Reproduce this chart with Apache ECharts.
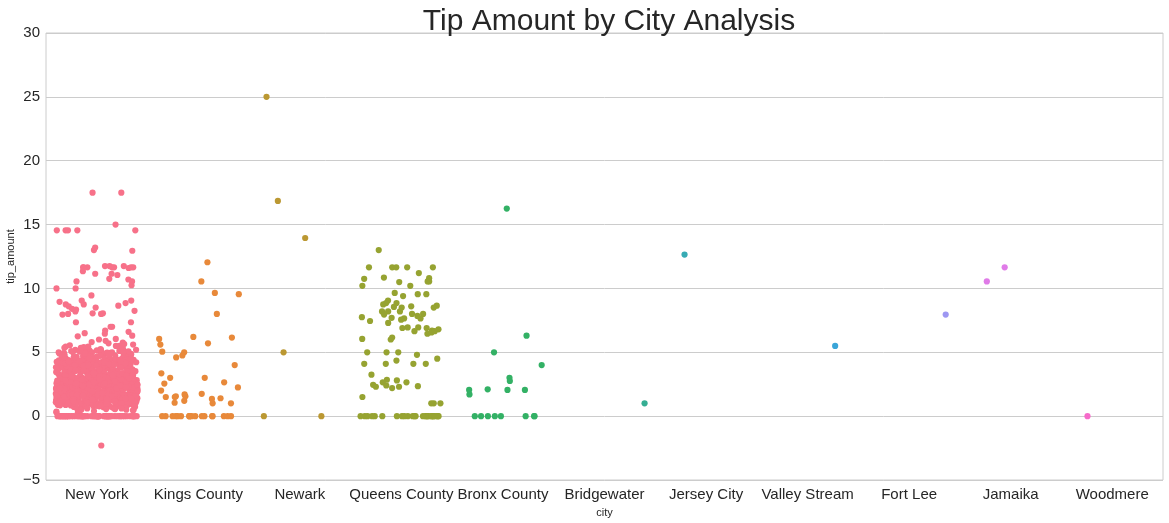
<!DOCTYPE html>
<html>
<head>
<meta charset="utf-8">
<script src="https://cdn.jsdelivr.net/npm/echarts@6/dist/echarts.min.js"></script>
<style>html,body{margin:0;padding:0;background:#fff}#c{width:1169px;height:523px}</style>
</head>
<body>
<div id="c"></div>
<script>
const cities = ['New York','Kings County','Newark','Queens County','Bronx County','Bridgewater','Jersey City','Valley Stream','Fort Lee','Jamaika','Woodmere'];
const yTicks = [-5, 0, 5, 10, 15, 20, 25, 30];
const colors = ['#f77189','#e8893a','#bb9832','#96a331','#33b165','#35ae93','#37abb4','#3aa5d8','#9d97f2','#e07be8','#f66bca'];

const tipsNewYork = [
  17.5, 17.5, 15.0, 14.55, 14.55, 14.55, 14.55, 14.55, 13.0, 13.2, 12.95,
  11.6, 11.75, 11.65, 11.65, 11.65, 11.75, 11.75, 11.65, 11.35, 11.65, 11.65, 11.65,
  11.15, 11.15, 11.05, 10.7, 10.55, 10.75, 10.55, 10.25, 10.0, 10.0, 9.45, 8.95,
  8.75, 8.85, 8.5, 9.05, 8.2, 9.05, 8.75, 8.6, 8.65, 8.4, 8.25, 8.35, 8.0, 8.05,
  7.95, 8.05, 8.0, 7.35, 7.35, 7.0, 7.0, 6.7, 6.5, 6.25, 6.05, 6.45, 6.0, 6.6, 6.3,
  5.8, 5.75, 5.6, 5.55, 5.5, 5.45, 5.4, 5.35, 5.3, 5.25, 5.2, 5.2, 5.15, 5.1, 5.05,
  5.0, 5.0, 5.0, 5.0, 5.0, 4.95, 4.9, 4.85, 4.8, 4.8, 4.75, 4.7, 4.7, 4.65, 4.6,
  4.6, 4.55, 4.55, 4.5, 4.5, 4.5, 4.45, 4.4, 4.4, 4.35, 5.65, 5.9, 5.3, 4.9, 4.65,
  4.75, 5.1, 4.95,
  4.55, 4.6, 4.7, 4.8, 4.9, 5.0, 5.1, 5.2, 4.65, 4.75, 4.85, 4.95, 5.05, 5.15, 5.25,
  5.35, 4.5, 4.58, 4.68, 4.78, 4.88, 4.98, 5.08, 5.5, 5.7, 4.62, 4.72, 4.82, 5.45, 5.0,
  1.95, 2.36, 1.16, 3.45, 2.7, 1.66, 0.96, 2.08, 1.5, 3.06, 2.55, 1.82, 4.12, 1.35, 2.96, 1.08, 2.26, 3.76, 1.56, 2.86,
  1.25, 3.2, 2.15, 0.78, 1.76, 2.45, 3.58, 1.46, 2.66, 1.06, 4.36, 2.0, 1.86, 3.16, 2.76, 1.36, 0.88, 2.46, 3.86, 1.7,
  2.25, 1.15, 3.36, 2.56, 1.96, 0.68, 2.85, 1.45, 3.95, 2.06, 1.26, 3.55, 2.35, 1.65, 4.05, 2.95, 1.05, 2.5, 3.26, 1.85,
  1.0, 2.16, 3.66, 1.55, 2.65, 0.92, 1.75, 3.05, 2.4, 1.12, 4.25, 1.94, 2.82, 1.32, 3.42, 2.18, 0.84, 1.62, 2.58, 3.7,
  1.42, 2.92, 1.88, 3.32, 2.28, 1.02, 4.18, 1.72, 2.62, 1.22, 3.12, 2.02, 0.74, 1.52, 3.82, 2.48, 1.18, 2.72, 3.48, 1.92,
  2.12, 1.38, 3.62, 0.98, 2.52, 1.78, 2.98, 1.28, 4.02, 2.32, 1.58, 3.22, 2.78, 1.1, 3.92, 2.22, 1.48, 2.68, 0.82, 1.98,
  3.0, 1.3, 2.42, 1.68, 3.52, 2.88, 1.14, 4.3, 2.1, 1.6, 3.38, 2.6, 0.94, 1.84, 2.3, 3.72, 1.4, 2.8, 1.2, 3.1,
  1.8, 2.2, 0.7, 3.3, 1.9, 2.9, 1.44, 4.08, 2.64, 1.04, 3.64, 2.04, 1.74, 2.84, 1.24, 3.44, 2.44, 0.86, 1.64, 3.9,
  2.34, 1.54, 3.14, 1.94, 2.74, 1.14, 4.22, 2.14, 1.34, 3.54, 2.54, 0.76, 1.84, 2.94, 1.64, 3.84, 2.24, 1.04, 3.24, 2.04,
  1.5, 2.0, 1.0, 2.5, 1.5, 3.0, 2.0, 1.0, 1.5, 2.0, 2.5, 3.5, 1.0, 2.0, 1.5, 4.0, 1.0, 3.0, 2.0, 1.5,
  1.31, 2.61, 1.91, 3.41, 2.11, 0.91, 1.61, 2.81, 3.81, 1.21, 2.41, 4.41, 1.71, 3.01, 2.21, 1.11, 2.71, 3.61, 1.81, 2.31,
  0.81, 1.41, 3.21, 2.51, 1.01, 3.91, 2.01, 1.51, 2.91, 3.31, 1.77, 2.27, 1.17, 3.67, 2.87, 1.47, 4.17, 2.37, 0.97, 1.97,
  2.67, 1.27, 3.17, 2.07, 1.57, 3.77, 2.47, 0.87, 1.87, 2.97, 1.37, 3.47, 2.17, 1.07, 4.27, 2.77, 1.67, 3.07, 2.57, 1.23,
  1.73, 2.43, 3.33, 1.13, 2.83, 1.93, 3.93, 2.13, 0.73, 1.53, 2.63, 3.53, 1.33, 2.23, 4.13, 1.83, 2.93, 1.03, 3.73, 2.33,
  1.63, 2.53, 1.43, 3.23, 2.03, 0.93, 1.73, 3.63, 2.73, 1.19, 4.33, 2.19, 1.69, 3.09, 2.39, 1.29, 2.89, 3.39, 1.89, 2.59,
  0.79, 1.49, 2.69, 3.19, 1.99, 1.09, 3.99, 2.29, 1.59, 2.79, 3.49, 1.39, 2.49, 0.99, 4.09, 1.79, 3.29, 2.09, 1.19, 2.99,
  2.38, 1.28, 3.58, 1.78, 2.68, 0.89, 1.98, 3.18, 2.18, 1.48, 4.38, 2.58, 1.08, 3.78, 2.88, 1.68, 3.28, 2.28, 0.69, 1.88,
  3.11, 1.61, 2.44, 1.11, 3.71, 2.14, 1.44, 2.84, 0.77, 1.94, 3.44, 2.54, 1.24, 4.04, 2.24, 1.74, 3.34, 2.64, 1.14, 3.96,
  1.55, 2.75, 1.05, 3.35, 2.25, 1.85, 3.85, 2.05, 0.85, 1.65, 2.95, 3.65, 1.35, 2.45, 4.15, 1.95, 3.15, 2.65, 1.15, 2.15,
  2.86, 1.46, 3.26, 1.96, 0.95, 2.56, 1.76, 3.56, 2.36, 1.26, 4.26, 2.16, 1.56, 3.46, 2.76, 1.06, 3.86, 2.06, 1.86, 3.36,
  2.02, 1.32, 3.52, 2.72, 1.12, 4.22, 1.82, 2.52, 0.72, 3.02, 2.32, 1.62, 3.82, 2.92, 1.42, 4.42, 2.12, 1.02, 3.32, 2.62,
  1.37, 2.27, 3.97, 1.57, 2.87, 0.83, 3.47, 2.07, 1.77, 4.07, 2.57, 1.17, 3.17, 2.37, 1.87, 3.67, 0.97, 2.77, 1.47, 4.27,
  3.05, 1.85, 2.45, 4.35, 1.25, 2.95, 3.75, 1.65, 0.75, 2.25, 3.55, 1.45, 2.65, 4.15, 1.05, 3.25, 2.05, 1.95, 3.85, 2.55,
  4.45, 3.63, 2.83, 1.23, 3.93, 2.43, 1.63, 4.23, 2.93, 0.88, 3.33, 1.93, 2.63, 4.03, 1.43, 3.13, 2.23, 1.73, 3.73, 1.13,
  2.19, 3.39, 1.29, 4.19, 2.59, 0.99, 3.59, 1.89, 2.79, 4.39, 1.49, 3.09, 2.39, 1.09, 3.89, 2.99, 1.69, 4.09, 2.29, 1.59,
  3.16, 1.96, 4.36, 2.56, 1.36, 3.76, 2.16, 0.86, 3.46, 1.76, 2.96, 4.16, 1.16, 2.36, 3.56, 1.56, 2.76, 3.96, 1.06, 2.46,
  1.5, 2.0, 3.0, 2.5, 1.0, 3.5, 4.0, 2.0, 1.5, 2.5, 3.0, 1.0, 2.0, 4.5, 1.5, 3.5, 2.5, 1.0, 3.0, 2.0,
  4.28, 3.48, 2.68, 1.88, 4.48, 3.68, 2.88, 1.08, 3.88, 2.08, 1.28, 4.08, 3.28, 2.48, 0.68, 3.08, 1.68, 2.28, 4.18, 1.48,
  3.44, 1.84, 4.24, 2.64, 1.24, 3.84, 2.84, 0.94, 4.44, 2.24, 1.64, 3.24, 2.04, 1.44, 4.04, 3.64, 1.04, 2.44, 3.04, 1.94,
  2.71, 3.91, 1.51, 4.31, 2.91, 0.81, 3.51, 1.71, 2.31, 4.11, 1.91, 3.31, 2.51, 1.31, 3.71, 2.11, 4.21, 1.21, 3.11, 2.81,
  3.87, 2.47, 1.27, 4.47, 3.27, 2.17, 0.77, 3.67, 1.97, 2.67, 4.37, 1.57, 3.07, 2.27, 1.07, 4.17, 2.87, 1.67, 3.57, 2.37,
  4.33, 3.13, 1.83, 2.53, 4.13, 0.93, 3.83, 2.33, 1.53, 3.43, 2.73, 4.43, 1.33, 3.23, 2.13, 1.73, 3.93, 2.93, 1.13, 4.03,
  1.99, 3.29, 4.29, 2.49, 1.19, 3.79, 2.89, 0.79, 4.49, 3.49, 1.79, 2.69, 4.09, 1.39, 3.19, 2.09, 3.99, 1.59, 2.59, 4.19,
  2.85, 4.05, 1.75, 3.45, 2.35, 1.15, 4.25, 3.15, 0.85, 3.95, 2.15, 1.55, 4.35, 2.75, 1.35, 3.65, 2.55, 4.15, 1.95, 3.35,
  3.78, 2.58, 4.38, 1.38, 3.18, 2.18, 0.98, 4.28, 2.98, 1.78, 3.58, 2.38, 4.08, 1.58, 3.38, 2.78, 1.18, 3.98, 2.28, 4.48,
  0.5, 0.55, 0.4, 0.6, 0.3, 0.45, 0.5, 0.6, 0.35, 0.55, 0.25, 0.5, 0.6, 0.58, 0.45,
  0, 0, 0, 0, 0, 0, 0, 0, 0, 0, 0, 0, 0, 0, 0, 0, 0, 0, 0, 0,
  0, 0, 0, 0, 0, 0, 0, 0, 0, 0, 0, 0, 0, 0, 0, 0, 0, 0, 0, 0,
  0, 0, 0, 0, 0, 0, 0, 0, 0, 0, 0, 0, 0, 0, 0, 0, 0, 0, 0, 0,
  -2.3
];
const tipsKingsCounty = [
  12.05, 10.55, 9.65, 9.55, 8.0, 6.2, 6.05, 6.15, 5.6, 5.7, 5.05, 5.0, 4.6, 4.75,
  4.0, 3.0, 3.35, 3.0, 2.65, 2.55, 2.25, 2.0, 1.75, 1.55, 1.5, 1.5, 1.7, 1.55,
  1.2, 1.35, 1.4, 1.0, 1.0, 1.05,
  0, 0, 0, 0, 0, 0, 0, 0, 0, 0, 0, 0, 0, 0, 0, 0, 0, 0
];
const tipsNewark = [25.0, 16.85, 13.95, 5.0, 0, 0];
const tipsQueensCounty = [
  13.0, 11.65, 11.65, 11.65, 11.65, 11.65, 11.2, 10.85, 10.8, 10.75, 10.55, 10.5, 10.55,
  10.2, 10.2, 9.55, 9.65, 9.55, 9.4, 9.05, 8.65, 8.75, 8.85, 8.6, 8.5, 8.85, 8.55, 8.5,
  8.2, 8.2, 8.2, 7.95, 7.7, 8.0, 8.0, 7.75, 7.65, 7.45, 7.55, 7.65, 7.85, 7.3, 6.95,
  6.95, 6.9, 6.7, 6.55, 6.45, 6.65, 6.8, 6.9, 6.65, 6.0, 6.15, 6.05, 4.5, 5.0, 5.0,
  5.0, 4.8, 4.35, 4.1, 4.1, 4.1, 4.1, 3.25, 2.8, 2.65, 2.85, 2.65, 2.4, 2.3, 2.45,
  2.2, 2.3, 2.35, 1.5, 1.0, 1.0, 1.0,
  0, 0, 0, 0, 0, 0, 0, 0, 0, 0, 0, 0, 0, 0, 0, 0, 0, 0, 0, 0, 0, 0, 0, 0, 0, 0
];
const tipsBronxCounty = [16.25, 6.3, 5.0, 4.0, 3.0, 2.75, 2.1, 2.05, 1.7, 2.05, 2.05, 0, 0, 0, 0, 0, 0, 0, 0];
const tipsBridgewater = [1.0];
const tipsJerseyCity = [12.65];
const tipsValleyStream = [5.5];
const tipsFortLee = [7.95];
const tipsJamaika = [11.65, 10.55];
const tipsWoodmere = [0];

const allTips = [tipsNewYork, tipsKingsCounty, tipsNewark, tipsQueensCounty, tipsBronxCounty,
  tipsBridgewater, tipsJerseyCity, tipsValleyStream, tipsFortLee, tipsJamaika, tipsWoodmere];

const textColor = '#262626';
const gridColor = '#cccccc';
const font = 'Liberation Sans, Arial, sans-serif';

const chart = echarts.init(document.getElementById('c'), null, {renderer: 'canvas'});
chart.setOption({
  animation: false,
  backgroundColor: '#ffffff',
  title: {
    text: 'Tip Amount by City Analysis',
    left: 604, textAlign: 'center', top: 2,
    textStyle: {fontFamily: font, fontSize: 30, fontWeight: 'normal', color: textColor}
  },
  grid: {left: 46, right: 6, top: 33, bottom: 43, containLabel: false, outerBoundsMode: 'none',
    show: true, borderColor: gridColor, borderWidth: 1, backgroundColor: 'transparent'},
  xAxis: {
    type: 'category',
    data: cities,
    boundaryGap: true,
    jitter: 82,
    jitterOverlap: true,
    name: 'city', nameLocation: 'middle', nameGap: 27, nameMoveOverlap: false,
    nameTextStyle: {fontFamily: font, fontSize: 11, color: textColor},
    axisLine: {show: false}, axisTick: {show: false}, splitLine: {show: false},
    axisLabel: {fontFamily: font, fontSize: 15, color: textColor, margin: 7, interval: 0}
  },
  yAxis: {
    type: 'value', min: yTicks[0], max: yTicks[yTicks.length - 1], interval: 5,
    name: 'tip_amount', nameLocation: 'middle', nameGap: 30, nameMoveOverlap: false,
    nameTextStyle: {fontFamily: font, fontSize: 11, color: textColor},
    axisLine: {show: false}, axisTick: {show: false},
    splitLine: {show: true, lineStyle: {color: gridColor, width: 1}},
    axisLabel: {fontFamily: font, fontSize: 15, color: textColor, margin: 6,
      formatter: v => (v < 0 ? '\u2212' + Math.abs(v) : String(v))}
  },
  series: cities.map((c, i) => ({
    type: 'scatter', name: c,
    data: allTips[i].map(v => [c, v]),
    symbol: 'circle', symbolSize: 6.2,
    itemStyle: {color: colors[i], opacity: 1},
    emphasis: {disabled: true}
  }))
});
</script>
</body>
</html>
